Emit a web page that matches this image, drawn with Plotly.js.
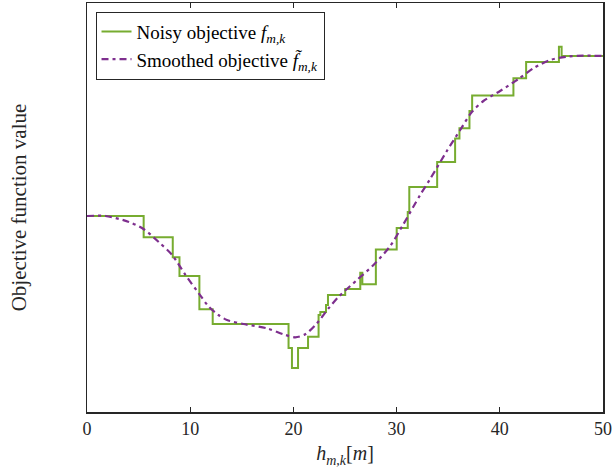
<!DOCTYPE html>
<html>
<head>
<meta charset="utf-8">
<script src="https://cdn.plot.ly/plotly-3.0.1.min.js"></script>
<style>html,body{margin:0;padding:0;background:#fff;}</style>
</head>
<body>
<div id="chart" style="width:612px;height:472px;"></div>
<script>
// Noisy objective (step function breakpoints)
const noisyX = [0, 5.49, 8.31, 8.96, 10.89, 12.18, 19.53, 19.86, 20.45, 21.42, 22.44, 22.61, 23.16, 23.35, 25.02, 26.48, 26.68, 27.99, 30.01, 31.08, 31.23, 33.93, 35.67, 36.09, 37.06, 37.32, 41.32, 42.55, 45.73, 45.99, 50];
const noisyY = [1.96, 1.747, 1.547, 1.36, 1.027, 0.88, 0.64, 0.44, 0.64, 0.753, 0.97, 1.0, 1.07, 1.17, 1.23, 1.393, 1.277, 1.625, 1.84, 2.0, 2.25, 2.50, 2.735, 2.837, 3.01, 3.165, 3.337, 3.50, 3.653, 3.56, 3.56];

// Smoothed objective
const smoothX = [0, 1.79, 3.99, 5.47, 6.92, 8.25, 9.54, 10.83, 11.80, 12.73, 13.57, 15.15, 17.44, 19.02, 20.18, 21.15, 22.28, 23.41, 24.38, 26.16, 27.76, 29.38, 30.67, 32.28, 33.25, 34.87, 36.16, 37.29, 38.41, 40.03, 41.80, 43.25, 44.87, 46.49, 48.09, 50];
const smoothY = [1.96, 1.96, 1.903, 1.83, 1.703, 1.57, 1.37, 1.187, 1.053, 0.97, 0.92, 0.88, 0.837, 0.777, 0.747, 0.777, 0.887, 1.037, 1.153, 1.32, 1.47, 1.66, 1.88, 2.17, 2.33, 2.61, 2.82, 3.0, 3.11, 3.21, 3.33, 3.437, 3.52, 3.553, 3.563, 3.56];

const xTicks = [0, 10, 20, 30, 40, 50];

const fontFam = 'Liberation Serif, Times New Roman, serif';
const axisColor = '#262626';

const traces = [
  {
    x: noisyX, y: noisyY, type: 'scatter', mode: 'lines',
    line: {color: '#77AC30', width: 2, shape: 'hv'},
    name: 'Noisy objective <i>f</i><sub><i>m,k</i></sub>'
  },
  {
    x: smoothX, y: smoothY, type: 'scatter', mode: 'lines',
    line: {color: '#7E2F8E', width: 2.2, dash: '7px,4px,3px,4px', shape: 'spline', smoothing: 0.8},
    name: 'Smoothed objective <i>f\u0303</i><sub><i>m,k</i></sub>'
  }
];

const layout = {
  width: 612, height: 472,
  margin: {l: 86.5, r: 9, t: 3, b: 60, pad: 0},
  paper_bgcolor: '#fff', plot_bgcolor: '#fff',
  font: {family: fontFam, size: 18, color: axisColor},
  showlegend: true,
  legend: {
    x: 0.0165, y: 0.979, xanchor: 'left', yanchor: 'top',
    bgcolor: '#fff', bordercolor: axisColor, borderwidth: 1,
    font: {family: fontFam, size: 19, color: '#000'},
    tracegroupgap: 0, itemwidth: 30
  },
  xaxis: {
    range: [0, 50], tickvals: xTicks, ticktext: xTicks.map(String),
    ticks: 'inside', ticklen: 5, tickwidth: 1.2, tickcolor: axisColor,
    showline: true, linecolor: axisColor, linewidth: 1.5, mirror: 'ticks',
    showgrid: false, zeroline: false,
    tickfont: {family: fontFam, size: 18, color: axisColor},
    title: {text: '<i>h</i><sub><i>m,k</i></sub>[<i>m</i>]', font: {family: fontFam, size: 20, color: axisColor}, standoff: 8}
  },
  yaxis: {
    range: [0, 4.09],
    showticklabels: false, ticks: '',
    showline: true, linecolor: axisColor, linewidth: 1.5, mirror: true,
    showgrid: false, zeroline: false,
    title: {text: 'Objective function value', font: {family: fontFam, size: 21, color: axisColor}, standoff: 53}
  }
};

Plotly.newPlot('chart', traces, layout, {displayModeBar: false, staticPlot: true});
</script>
</body>
</html>
